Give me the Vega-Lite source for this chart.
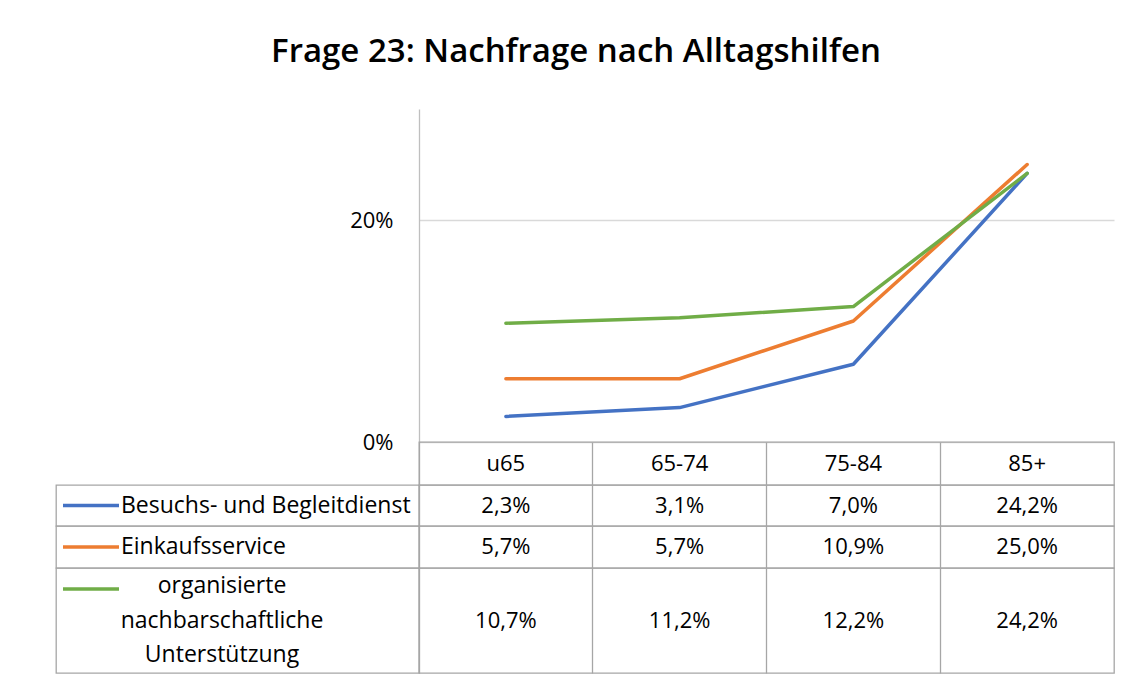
{
  "$schema": "https://vega.github.io/schema/vega-lite/v6.json",
  "background": "white",
  "padding": {"left": 55, "top": 36, "right": 10, "bottom": 5},
  "title": {"text": "Frage 23: Nachfrage nach Alltagshilfen", "anchor": "middle", "font": "Open Sans", "fontSize": 33, "fontWeight": 600, "color": "black", "offset": 40, "dx": -9},
  "datasets": {
    "nachfrage": [
      {"Dienst": "Besuchs- und Begleitdienst", "Altersgruppe": "u65", "Anteil": 0.023},
      {"Dienst": "Besuchs- und Begleitdienst", "Altersgruppe": "65-74", "Anteil": 0.031},
      {"Dienst": "Besuchs- und Begleitdienst", "Altersgruppe": "75-84", "Anteil": 0.070},
      {"Dienst": "Besuchs- und Begleitdienst", "Altersgruppe": "85+", "Anteil": 0.242},
      {"Dienst": "Einkaufsservice", "Altersgruppe": "u65", "Anteil": 0.057},
      {"Dienst": "Einkaufsservice", "Altersgruppe": "65-74", "Anteil": 0.057},
      {"Dienst": "Einkaufsservice", "Altersgruppe": "75-84", "Anteil": 0.109},
      {"Dienst": "Einkaufsservice", "Altersgruppe": "85+", "Anteil": 0.250},
      {"Dienst": "organisierte nachbarschaftliche Unterstützung", "Altersgruppe": "u65", "Anteil": 0.107},
      {"Dienst": "organisierte nachbarschaftliche Unterstützung", "Altersgruppe": "65-74", "Anteil": 0.112},
      {"Dienst": "organisierte nachbarschaftliche Unterstützung", "Altersgruppe": "75-84", "Anteil": 0.122},
      {"Dienst": "organisierte nachbarschaftliche Unterstützung", "Altersgruppe": "85+", "Anteil": 0.242}
    ]
  },
  "data": {"name": "nachfrage"},
  "columns": 2,
  "spacing": 0,
  "bounds": "flush",
  "align": "each",
  "config": {
    "view": {"stroke": "#a6a6a6", "strokeWidth": 1.3},
    "font": "Open Sans",
    "locale": {"number": {"decimal": ",", "thousands": ".", "grouping": [3], "currency": ["", " €"]}},
    "text": {"font": "Open Sans", "fontSize": 22, "color": "black"}
  },
  "concat": [
    {
      "width": 363, "height": 333,
      "view": {"stroke": null},
      "transform": [{"filter": "datum.Dienst === 'Einkaufsservice' && datum.Altersgruppe === 'u65'"}],
      "mark": {"type": "text"},
      "encoding": {"text": {"value": ""}}
    },
    {
      "width": 695, "height": 333,
      "view": {"stroke": null},
      "mark": {"type": "line", "strokeWidth": 3.5, "strokeCap": "round", "strokeJoin": "round"},
      "encoding": {
        "x": {"field": "Altersgruppe", "type": "ordinal", "sort": ["u65", "65-74", "75-84", "85+"], "scale": {"type": "band", "paddingInner": 0, "paddingOuter": 0}, "axis": null},
        "y": {"field": "Anteil", "type": "quantitative", "scale": {"domain": [0, 0.3], "nice": false, "zero": true},
          "axis": {"values": [0, 0.2], "format": ".0%", "title": null, "grid": true, "gridColor": "#d9d9d9", "gridWidth": 1.3, "domain": true, "domainColor": "#bfbfbf", "domainWidth": 1.3, "ticks": false, "labelFont": "Open Sans", "labelFontSize": 22, "labelColor": "black", "labelPadding": 26}},
        "color": {"field": "Dienst", "type": "nominal",
          "scale": {"domain": ["Besuchs- und Begleitdienst", "Einkaufsservice", "organisierte nachbarschaftliche Unterstützung"], "range": ["#4472C4", "#ED7D31", "#70AD47"]},
          "legend": null}
      }
    },
    {
      "width": 363, "height": 43,
      "view": {"stroke": null},
      "transform": [{"filter": "datum.Dienst === 'Einkaufsservice' && datum.Altersgruppe === 'u65'"}],
      "mark": {"type": "text"},
      "encoding": {"text": {"value": ""}}
    },
    {
      "width": 695, "height": 43,
      "transform": [{"filter": "datum.Dienst === 'Einkaufsservice'"}],
      "mark": {"type": "text", "baseline": "middle"},
      "encoding": {
        "x": {"field": "Altersgruppe", "type": "ordinal", "sort": ["u65", "65-74", "75-84", "85+"], "scale": {"type": "band", "paddingInner": 0, "paddingOuter": 0},
          "axis": {"title": null, "labels": false, "ticks": false, "domain": false, "grid": true, "bandPosition": 0, "gridColor": "#a6a6a6", "gridWidth": 1.3}},
        "text": {"field": "Altersgruppe"}
      }
    },
    {
      "width": 363, "height": 41,
      "view": {"stroke": "#a6a6a6", "strokeWidth": 1.3},
      "transform": [{"filter": "datum.Dienst === 'Besuchs- und Begleitdienst' && datum.Altersgruppe === 'u65'"}],
      "layer": [
        {
          "mark": {"type": "point", "shape": "stroke", "size": 3136, "strokeWidth": 3.5, "filled": false, "opacity": 1, "xOffset": -146.5},
          "encoding": {"color": {"field": "Dienst", "type": "nominal",
            "scale": {"domain": ["Besuchs- und Begleitdienst", "Einkaufsservice", "organisierte nachbarschaftliche Unterstützung"], "range": ["#4472C4", "#ED7D31", "#70AD47"]},
            "legend": null}}
        },
        {
          "mark": {"type": "text", "align": "left", "baseline": "middle", "dx": -116.5, "fontSize": 23},
          "encoding": {"text": {"field": "Dienst"}}
        }
      ]
    },
    {
      "width": 695, "height": 41,
      "transform": [{"filter": "datum.Dienst === 'Besuchs- und Begleitdienst'"}],
      "mark": {"type": "text", "baseline": "middle"},
      "encoding": {
        "x": {"field": "Altersgruppe", "type": "ordinal", "sort": ["u65", "65-74", "75-84", "85+"], "scale": {"type": "band", "paddingInner": 0, "paddingOuter": 0},
          "axis": {"title": null, "labels": false, "ticks": false, "domain": false, "grid": true, "bandPosition": 0, "gridColor": "#a6a6a6", "gridWidth": 1.3}},
        "text": {"field": "Anteil", "type": "quantitative", "format": ".1%"}
      }
    },
    {
      "width": 363, "height": 42,
      "view": {"stroke": "#a6a6a6", "strokeWidth": 1.3},
      "transform": [{"filter": "datum.Dienst === 'Einkaufsservice' && datum.Altersgruppe === 'u65'"}],
      "layer": [
        {
          "mark": {"type": "point", "shape": "stroke", "size": 3136, "strokeWidth": 3.5, "filled": false, "opacity": 1, "xOffset": -146.5},
          "encoding": {"color": {"field": "Dienst", "type": "nominal",
            "scale": {"domain": ["Besuchs- und Begleitdienst", "Einkaufsservice", "organisierte nachbarschaftliche Unterstützung"], "range": ["#4472C4", "#ED7D31", "#70AD47"]},
            "legend": null}}
        },
        {
          "mark": {"type": "text", "align": "left", "baseline": "middle", "dx": -116.5, "fontSize": 23},
          "encoding": {"text": {"field": "Dienst"}}
        }
      ]
    },
    {
      "width": 695, "height": 42,
      "transform": [{"filter": "datum.Dienst === 'Einkaufsservice'"}],
      "mark": {"type": "text", "baseline": "middle"},
      "encoding": {
        "x": {"field": "Altersgruppe", "type": "ordinal", "sort": ["u65", "65-74", "75-84", "85+"], "scale": {"type": "band", "paddingInner": 0, "paddingOuter": 0},
          "axis": {"title": null, "labels": false, "ticks": false, "domain": false, "grid": true, "bandPosition": 0, "gridColor": "#a6a6a6", "gridWidth": 1.3}},
        "text": {"field": "Anteil", "type": "quantitative", "format": ".1%"}
      }
    },
    {
      "width": 363, "height": 105,
      "view": {"stroke": "#a6a6a6", "strokeWidth": 1.3},
      "transform": [{"filter": "datum.Dienst === 'organisierte nachbarschaftliche Unterstützung' && datum.Altersgruppe === 'u65'"}],
      "layer": [
        {
          "mark": {"type": "point", "shape": "stroke", "size": 3136, "strokeWidth": 3.5, "filled": false, "opacity": 1, "xOffset": -146.5, "yOffset": -31.5},
          "encoding": {"color": {"field": "Dienst", "type": "nominal",
            "scale": {"domain": ["Besuchs- und Begleitdienst", "Einkaufsservice", "organisierte nachbarschaftliche Unterstützung"], "range": ["#4472C4", "#ED7D31", "#70AD47"]},
            "legend": null}}
        },
        {
          "mark": {"type": "text", "align": "center", "baseline": "middle", "dx": -15.5, "dy": -34.5, "fontSize": 23, "lineBreak": " ", "lineHeight": 34.5},
          "encoding": {"text": {"field": "Dienst"}}
        }
      ]
    },
    {
      "width": 695, "height": 105,
      "transform": [{"filter": "datum.Dienst === 'organisierte nachbarschaftliche Unterstützung'"}],
      "mark": {"type": "text", "baseline": "middle"},
      "encoding": {
        "x": {"field": "Altersgruppe", "type": "ordinal", "sort": ["u65", "65-74", "75-84", "85+"], "scale": {"type": "band", "paddingInner": 0, "paddingOuter": 0},
          "axis": {"title": null, "labels": false, "ticks": false, "domain": false, "grid": true, "bandPosition": 0, "gridColor": "#a6a6a6", "gridWidth": 1.3}},
        "text": {"field": "Anteil", "type": "quantitative", "format": ".1%"}
      }
    }
  ]
}
